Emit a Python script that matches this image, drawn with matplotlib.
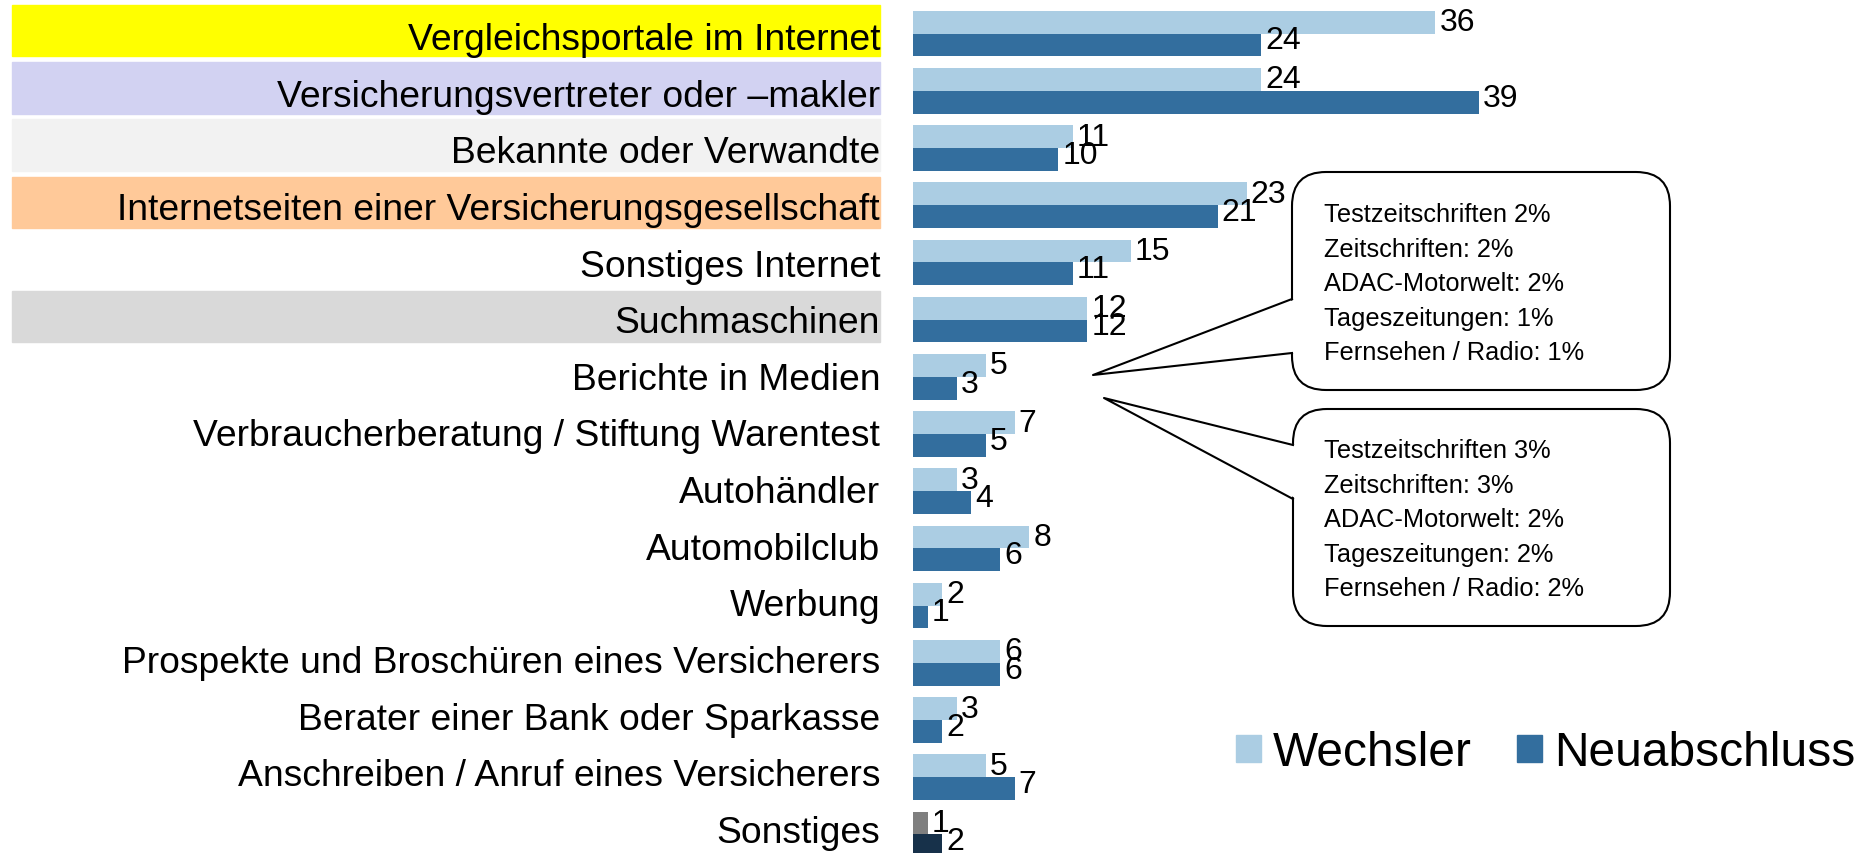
import matplotlib.pyplot as plt
from matplotlib.patches import Rectangle, FancyBboxPatch, Polygon, Patch

plt.rcParams['font.family'] = ['Liberation Sans', 'DejaVu Sans']

# Informationsquellen, Werte in %
categories = [
    "Vergleichsportale im Internet",
    "Versicherungsvertreter oder –makler",
    "Bekannte oder Verwandte",
    "Internetseiten einer Versicherungsgesellschaft",
    "Sonstiges Internet",
    "Suchmaschinen",
    "Berichte in Medien",
    "Verbraucherberatung / Stiftung Warentest",
    "Autohändler",
    "Automobilclub",
    "Werbung",
    "Prospekte und Broschüren eines Versicherers",
    "Berater einer Bank oder Sparkasse",
    "Anschreiben / Anruf eines Versicherers",
    "Sonstiges",
]
wechsler = [36, 24, 11, 23, 15, 12, 5, 7, 3, 8, 2, 6, 3, 5, 1]
neuabschluss = [24, 39, 10, 21, 11, 12, 3, 5, 4, 6, 1, 6, 2, 7, 2]

# Hintergrund der Beschriftung (None = keiner)
band_colors = ["#FFFF00", "#D2D2F2", "#F2F2F2", "#FFC999", None, "#D9D9D9",
               None, None, None, None, None, None, None, None, None]

callout_1 = ["Testzeitschriften 2%", "Zeitschriften: 2%", "ADAC-Motorwelt: 2%",
             "Tageszeitungen: 1%", "Fernsehen / Radio: 1%"]
callout_2 = ["Testzeitschriften 3%", "Zeitschriften: 3%", "ADAC-Motorwelt: 2%",
             "Tageszeitungen: 2%", "Fernsehen / Radio: 2%"]

W, H = 1870, 854
light = "#ABCDE3"
dark = "#336E9E"

fig = plt.figure(figsize=(W / 100, H / 100), dpi=100)
x0 = 913
ax = fig.add_axes([x0 / W, 0, 1 - x0 / W, 1])
ppu = 14.5          # pixel pro Prozentpunkt
pitch = 57.2        # pixel pro Zeile
ax.set_xlim(0, (W - x0) / ppu)
ax.set_ylim((H - 34.6) / pitch, -34.6 / pitch)
ax.axis("off")

n = len(categories)
ys = list(range(n))
c_w = [light] * (n - 1) + ["#7F7F7F"]
c_n = [dark] * (n - 1) + ["#17314A"]
bh = 0.4
ax.barh([y - bh / 2 for y in ys], wechsler, height=bh, color=c_w)
ax.barh([y + bh / 2 for y in ys], neuabschluss, height=bh, color=c_n)

for i in ys:
    ax.text(wechsler[i] + 0.3, i - bh / 2, str(wechsler[i]), fontsize=23,
            ha="left", va="center")
    ax.text(neuabschluss[i] + 0.3, i + bh / 2 - 0.08, str(neuabschluss[i]),
            fontsize=23, ha="left", va="center")

# Kategorien links, teils farbig hinterlegt
lab_x = (880 - x0) / ppu
band_l = (12 - x0) / ppu
for i, cat in enumerate(categories):
    if band_colors[i]:
        ax.add_patch(Rectangle((band_l, i - 0.5), lab_x - band_l, 0.9,
                               color=band_colors[i], clip_on=False, zorder=0))
    ax.text(lab_x, 0.27 + i * 0.99, cat, fontsize=26.8, ha="right",
            va="baseline", clip_on=False)


# Sprechblasen (Pixelkoordinaten, Ursprung oben links)
def px(x, y):
    return (x, H - y)


def callout(left, top, right, bottom, tip, b1, b2, lines, ty):
    x, y = px(left, bottom)
    box = FancyBboxPatch((x + 34, y + 34), right - left - 68, bottom - top - 68,
                         boxstyle="round,pad=34", transform=None,
                         facecolor="white", edgecolor="black", lw=1.5, zorder=5)
    fig.add_artist(box)
    tail = Polygon([px(left + 4, b1), px(*tip), px(left + 4, b2)], closed=True,
                   transform=None, facecolor="white", edgecolor="none", zorder=6)
    fig.add_artist(tail)
    fig.add_artist(plt.Line2D([left, tip[0], left], [H - b1, H - tip[1], H - b2],
                              transform=None, color="black", lw=1.5, zorder=7))
    for k, line in enumerate(lines):
        fig.text(1324 / W, 1 - (ty + k * 34.6) / H, line, fontsize=18.3,
                 ha="left", va="center", zorder=8)


callout(1292, 173, 1670, 391, (1093, 376), 300, 354, callout_1, 215)
callout(1293, 410, 1670, 627, (1104, 399), 446, 500, callout_2, 451)

handles = [Patch(color=light, label="Wechsler"), Patch(color=dark, label="Neuabschluss")]
fig.legend(handles=handles, loc="center left", bbox_to_anchor=(1236 / W, 1 - 754 / H),
           ncol=2, frameon=False, fontsize=34.5, handlelength=0.52, handleheight=0.52,
           handletextpad=0.25, columnspacing=0.95, borderpad=0, borderaxespad=0)

fig.savefig("out.png", dpi=100)
